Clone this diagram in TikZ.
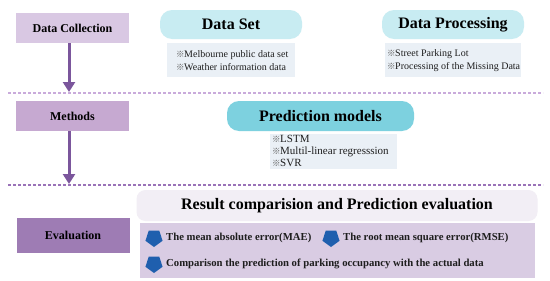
\documentclass[tikz,border=0pt]{standalone}
\usepackage{fontspec}
\setmainfont{Liberation Serif}
\newfontfamily\cjk{Noto Sans CJK SC}
\usetikzlibrary{shapes.geometric,arrows.meta}
\newcommand\refmk{\makebox[8pt][l]{\cjk\fontsize{8.5}{8.5}\selectfont\color{markgray}※}}
\definecolor{lab1}{HTML}{D9C8E3}
\definecolor{lab2}{HTML}{C6A9D1}
\definecolor{lab3}{HTML}{9E7CB4}
\definecolor{arrowpurple}{HTML}{7B569C}
\definecolor{dash1}{HTML}{C9ABDB}
\definecolor{dash2}{HTML}{9A72B8}
\definecolor{cyanlight}{HTML}{C8ECF2}
\definecolor{cyandark}{HTML}{7DD1DF}
\definecolor{itemfill}{HTML}{EAF0F6}
\definecolor{restitle}{HTML}{F2EEF5}
\definecolor{resitems}{HTML}{D9CCE3}
\definecolor{pentblue}{HTML}{1F5FAE}
\definecolor{markgray}{HTML}{555555}
\definecolor{txt}{HTML}{1E1E1E}
\begin{document}
\begin{tikzpicture}[x=1pt,y=-1pt,
  stagebox/.style={inner sep=0pt, minimum width=113pt, minimum height=30pt,
    font=\bfseries\fontsize{12}{14}\selectfont},
  titlebox/.style={inner sep=0pt, rounded corners=12pt,
    font=\bfseries\fontsize{16}{19}\selectfont},
  itembox/.style={fill=itemfill, inner sep=0pt},
  itemtext/.style={anchor=west, align=left, inner sep=0pt, text=txt,
    font=\fontsize{10}{13}\selectfont},
  pent/.style={regular polygon, regular polygon sides=5, shape border rotate=180,
    fill=pentblue, minimum size=18pt, inner sep=0pt},
  bullettext/.style={anchor=west, inner sep=0pt, text=txt,
    font=\bfseries\fontsize{10.7}{12}\selectfont},
  sepline/.style={dash pattern=on 3pt off 2pt, line width=1.3pt},
  flow/.style={-{Triangle[length=10pt,width=12pt]}, line width=3pt, draw=arrowpurple}
]
\useasboundingbox (0,0) rectangle (550,281);
\fill[white] (0,0) rectangle (550,281);

% stage labels
\node[stagebox, fill=lab1] (dc) at (72.5,28) {Data Collection};
\node[stagebox, fill=lab2] (me) at (72.5,116) {Methods};
\node[stagebox, fill=lab3, minimum height=35pt] (ev) at (73,235.5) {Evaluation};

% separators
\coordinate (s1l) at (8,93);   \coordinate (s1r) at (543,93);
\coordinate (s2l) at (8,185);  \coordinate (s2r) at (543,185);
\draw[sepline, draw=dash1] (s1l) -- (s1r);
\draw[sepline, draw=dash2] (s2l) -- (s2r);

% arrows
\coordinate (a1) at (69,92);
\coordinate (a2) at (69,184);
\draw[flow] (dc.south -| a1) -- (a1);
\draw[flow] (me.south -| a2) -- (a2);

% Data set
\node[titlebox, fill=cyanlight, minimum width=142pt, minimum height=29pt] (ds) at (231,24.5) {Data Set};
\node[itembox, minimum width=128pt, minimum height=34pt] (dsi) at (231,60) {};
\node[itemtext] (dst) at (176,60.5) {\refmk Melbourne public data set\\ \refmk Weather information data};

% Data processing
\node[titlebox, fill=cyanlight, minimum width=142pt, minimum height=29pt] (dp) at (453,24.5) {Data Processing};
\node[itembox, minimum width=136pt, minimum height=34pt] (dpi) at (453,60) {};
\node[itemtext] (dpt) at (387,60.5) {\refmk Street Parking Lot\\ \refmk Processing of the Missing Data};

% Prediction models
\node[titlebox, fill=cyandark, minimum width=187pt, minimum height=30pt] (pm) at (320.5,116) {Prediction models};
\node[itembox, minimum width=127pt, minimum height=35pt] (pmi) at (333.5,151.5) {};
\node[itemtext, font=\fontsize{11}{11.8}\selectfont] (pmt) at (272,151) {\refmk LSTM\\ \refmk Multil-linear regresssion\\ \refmk SVR};

% Result
\node[titlebox, rounded corners=9pt, fill=restitle, minimum width=401pt, minimum height=31pt] (rt) at (337,205.5) {Result comparision and Prediction evaluation};
\node[inner sep=0pt, fill=resitems, minimum width=395pt, minimum height=55pt] (ri) at (337.5,250.5) {};
\node[pent] (p1) at (154,238) {};
\node[pent] (p2) at (331,238) {};
\node[pent] (p3) at (154,264) {};
\node[bullettext] (b1) at (166,238) {The mean absolute error(MAE)};
\node[bullettext] (b2) at (343,238) {The root mean square error(RMSE)};
\node[bullettext] (b3) at (166,264) {Comparison the prediction of parking occupancy with the actual data};
\end{tikzpicture}
\end{document}
